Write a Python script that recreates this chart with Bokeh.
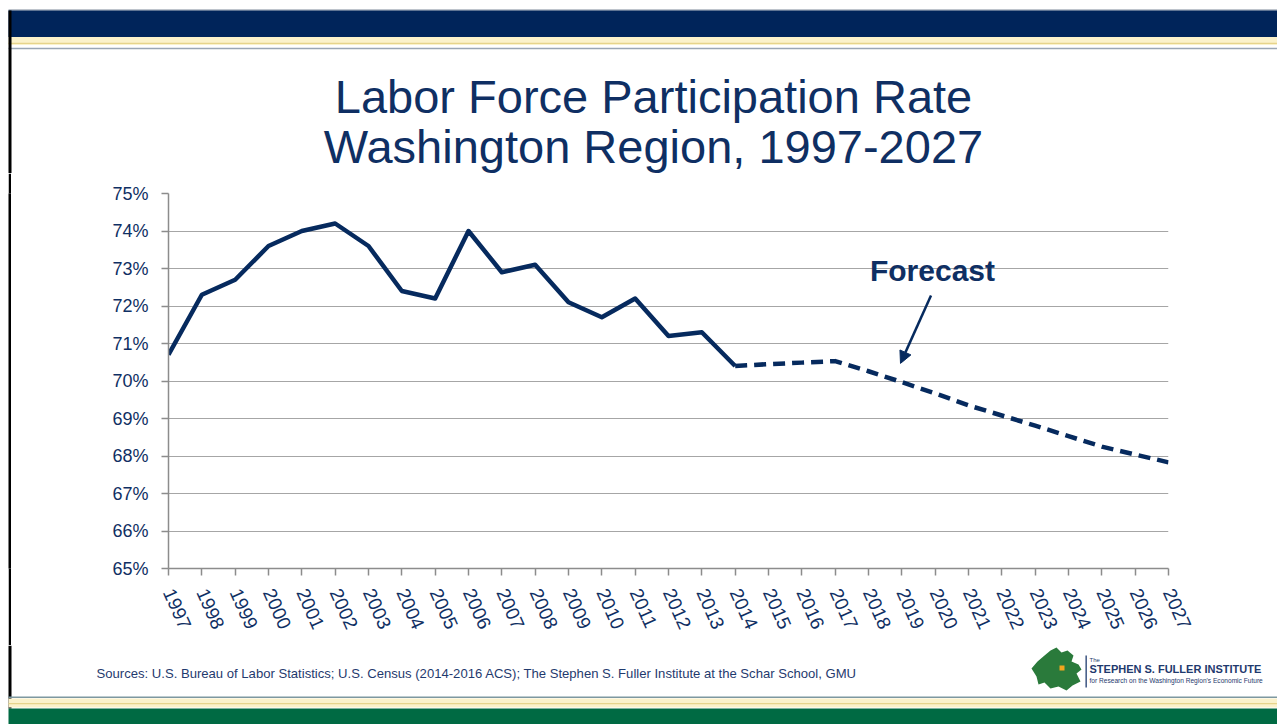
from bokeh.plotting import figure
from bokeh.layouts import column, row
from bokeh.models import FixedTicker, Label, Arrow, NormalHead, Range1d, Spacer
from bokeh.core.properties import value
from bokeh.embed import file_html
from bokeh.resources import INLINE

# ---------------- data ----------------
all_years = list(range(1997, 2028))
actual_years = list(range(1997, 2015))
actual_rate = [70.7, 72.3, 72.7, 73.6, 74.0, 74.2, 73.6, 72.4, 72.2, 74.0,
               72.9, 73.1, 72.1, 71.7, 72.2, 71.2, 71.3, 70.4]
forecast_years = list(range(2014, 2028))
forecast_rate = [70.4, 70.45, 70.49, 70.53, 70.26, 69.97, 69.67, 69.35, 69.08,
                 68.81, 68.53, 68.25, 68.04, 67.83]
y_ticks = list(range(65, 76))
y_tick_labels = [f"{t}%" for t in y_ticks]
x_tick_labels = [str(y) for y in all_years]

title_lines = ["Labor Force Participation Rate", "Washington Region, 1997-2027"]
source_text = ("Sources: U.S. Bureau of Labor Statistics; U.S. Census (2014-2016 ACS); "
               "The Stephen S. Fuller Institute at the Schar School, GMU")
logo_lines = ["The", "STEPHEN S. FULLER INSTITUTE",
              "for Research on the Washington Region's Economic Future"]

NAVY = "#062a5e"
TEXT_NAVY = "#0f2f63"
FOOT_NAVY = "#1f3a6e"
GRID = "#a6a6a6"
AXIS = "#8c8c8c"
BANNER_NAVY = "#00245a"
CREAM = "#fbf2cb"
GOLD = "#e6d48c"
GREEN = "#006a43"

W, H = 1277, 724
TOP_H = 173          # decorative header panel
BOT_Y0 = 645         # footer panel starts here
MID_H = BOT_Y0 - TOP_H
LEFT_GAP = 8
BORDER_W = 3
STRIP_W = LEFT_GAP + BORDER_W
MB_TOP = 193 - TOP_H
MB_BOT = BOT_Y0 - 568


def deco_fig(width, height):
    f = figure(width=width, height=height, x_range=Range1d(0, width),
               y_range=Range1d(height, 0), output_backend="svg",
               toolbar_location=None, x_axis_location=None, y_axis_location=None,
               min_border=0)
    f.xgrid.visible = False
    f.ygrid.visible = False
    f.outline_line_color = None
    f.border_fill_color = "white"
    f.background_fill_color = "white"
    return f


def band(f, y0, y1, color, x0=8, x1=W):
    f.quad(left=x0, right=x1, top=y0, bottom=y1, fill_color=color, line_color=None)


# ---------------- header ----------------
top = deco_fig(W, TOP_H)
band(top, 9, 10, "#7f8a99")
band(top, 10, 36.5, BANNER_NAVY)
band(top, 36.5, 44.5, CREAM)
band(top, 42.2, 43.6, GOLD)
band(top, 47.3, 48.8, "#9aa6b5")
band(top, 10, TOP_H, "#000000", x0=8, x1=11)
top.text(x=[653, 653], y=[95.5, 145.5], text=title_lines, text_align="center",
         text_baseline="middle", text_font=value("Liberation Sans"),
         text_font_size="47px", text_color=TEXT_NAVY)

# ---------------- left border strip ----------------
gap = Spacer(width=LEFT_GAP, height=MID_H, margin=0)
border = figure(width=BORDER_W, height=MID_H, output_backend="svg", toolbar_location=None,
                x_axis_location=None, y_axis_location=None, min_border=0,
                min_border_top=MB_TOP, min_border_bottom=MB_BOT,
                x_range=Range1d(0, 1), y_range=Range1d(0, 1))
border.xgrid.visible = False
border.ygrid.visible = False
border.outline_line_color = None
border.background_fill_color = "#000000"
border.border_fill_color = "#000000"

# ---------------- chart ----------------
p = figure(width=W - STRIP_W, height=MID_H, x_range=Range1d(1997, 2027),
           y_range=Range1d(65, 75), output_backend="svg", toolbar_location=None,
           min_border_left=168 - STRIP_W, min_border_right=W - 1168,
           min_border_top=MB_TOP, min_border_bottom=MB_BOT)
p.outline_line_color = None
p.background_fill_color = "white"
p.border_fill_color = "white"

p.xaxis.ticker = FixedTicker(ticks=all_years)
p.xaxis.major_label_overrides = {y: s for y, s in zip(all_years, x_tick_labels)}
p.xaxis.major_label_orientation = -1.15
p.yaxis.ticker = FixedTicker(ticks=y_ticks)
p.yaxis.major_label_overrides = {t: s for t, s in zip(y_ticks, y_tick_labels)}
for ax in (p.xaxis, p.yaxis):
    ax.axis_line_color = AXIS
    ax.axis_line_width = 1.5
    ax.major_tick_line_color = AXIS
    ax.major_tick_line_width = 1.5
    ax.major_tick_out = 7
    ax.major_tick_in = 0
    ax.minor_tick_line_color = None
    ax.major_label_text_font = "Liberation Sans"
    ax.major_label_text_color = TEXT_NAVY
p.yaxis.major_label_text_font_size = "18px"
p.xaxis.major_label_text_font_size = "19px"
p.yaxis.major_label_standoff = 13
p.xaxis.major_label_standoff = 14
p.xgrid.grid_line_color = None
p.ygrid.grid_line_color = GRID
p.ygrid.grid_line_width = 1.2

p.line(actual_years, actual_rate, line_width=4.5, line_color=NAVY, line_join="round")
p.line(forecast_years, forecast_rate, line_width=4.5, line_color=NAVY,
       line_dash="12 7", line_join="round")

p.add_layout(Label(x=2019.92, y=72.95, text="Forecast", text_align="center",
                   text_baseline="middle", text_font="Liberation Sans",
                   text_font_size="30px", text_font_style="bold", text_color=TEXT_NAVY))
p.add_layout(Arrow(x_start=2019.875, y_start=72.28, x_end=2018.96, y_end=70.47,
                   line_color=NAVY, line_width=2.5,
                   end=NormalHead(size=12, fill_color=NAVY, line_color=NAVY)))

# ---------------- footer ----------------
BOT_H = H - BOT_Y0
bot = deco_fig(W, BOT_H)
o = BOT_Y0
band(bot, 0, 708 - o, "#000000", x0=8, x1=11)
band(bot, 696 - o, 697.4 - o, "#7d98a0")
band(bot, 698 - o, 707 - o, CREAM)
band(bot, 702.5 - o, 703.8 - o, GOLD)
band(bot, 708 - o, BOT_H, GREEN)
bot.text(x=[96], y=[672.5 - o], text=[source_text], text_align="left",
         text_baseline="middle", text_font=value("Liberation Sans"),
         text_font_size="13.1px", text_color=FOOT_NAVY)

logo_x = [1036, 1031, 1037, 1044, 1050, 1056, 1061, 1067, 1073, 1071, 1078, 1081,
          1076, 1080, 1072, 1066, 1058, 1050, 1044, 1038]
logo_y = [676, 668, 661, 655, 650, 647, 652, 650, 655, 661, 664, 669,
          673, 681, 685, 690, 686, 688, 682, 684]
bot.patch([v for v in logo_x], [v - o for v in logo_y], fill_color="#2a7a3b", line_color=None)
bot.quad(left=1059, right=1064, top=665 - o, bottom=670 - o, fill_color="#f2a51e",
         line_color=None)
band(bot, 655 - o, 687 - o, FOOT_NAVY, x0=1085, x1=1086.3)
bot.text(x=[1089], y=[659 - o], text=[logo_lines[0]], text_baseline="middle",
         text_font=value("Liberation Sans"), text_font_size="6px",
         text_color=FOOT_NAVY)
bot.text(x=[1089], y=[668.5 - o], text=[logo_lines[1]], text_baseline="middle",
         text_font=value("Liberation Sans"), text_font_style="bold",
         text_font_size="11px", text_color=FOOT_NAVY)
bot.text(x=[1089], y=[680 - o], text=[logo_lines[2]], text_baseline="middle",
         text_font=value("Liberation Sans"), text_font_size="6.6px",
         text_color=FOOT_NAVY)

layout = column(top, row(gap, border, p), bot)
open("out.html", "w").write(file_html(layout, INLINE))
